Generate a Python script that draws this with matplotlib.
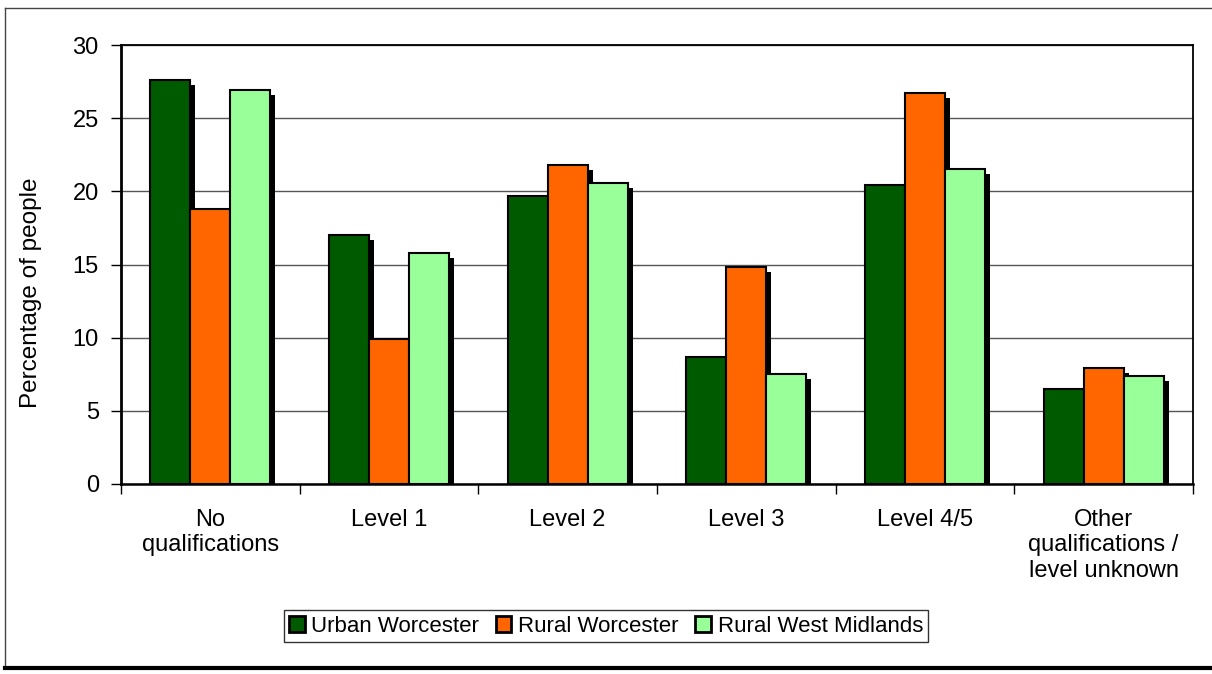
import numpy as np
import matplotlib.pyplot as plt
from matplotlib.transforms import offset_copy
from matplotlib.lines import Line2D

plt.rcParams['font.family'] = ['Liberation Sans', 'DejaVu Sans']

# Data
categories = ['No\nqualifications', 'Level 1', 'Level 2', 'Level 3', 'Level 4/5',
              'Other\nqualifications /\nlevel unknown']
urban_worcester = [27.6, 17.0, 19.7, 8.7, 20.4, 6.5]
rural_worcester = [18.8, 9.9, 21.8, 14.8, 26.7, 7.9]
rural_west_midlands = [26.9, 15.8, 20.6, 7.5, 21.5, 7.4]

series = [urban_worcester, rural_worcester, rural_west_midlands]
names = ['Urban Worcester', 'Rural Worcester', 'Rural West Midlands']
colors = ['#005A00', '#FF6600', '#99FF99']

fig = plt.figure(figsize=(12.12, 6.74), dpi=100)
ax = fig.add_axes([121 / 1212, 1 - 484 / 674, (1193 - 121) / 1212, (484 - 45) / 674])

x = np.arange(len(categories))
w = 0.224
shadow = offset_copy(ax.transData, fig=fig, x=5, y=-5, units='dots')

for i, (vals, c, n) in enumerate(zip(series, colors, names)):
    pos = x + (i - 1) * w
    sh = ax.bar(pos, vals, w, color='black', linewidth=0, zorder=2)
    for p in sh:
        p.set_transform(shadow)
    ax.bar(pos, vals, w, color=c, edgecolor='black', linewidth=1.5, zorder=3, label=n)

ax.set_xlim(-0.5, len(categories) - 0.5)
ax.set_ylim(0, 30)
ax.set_yticks(np.arange(0, 31, 5))
ax.yaxis.grid(True, color='#555555', linewidth=1)
ax.set_axisbelow(True)

ax.set_xticks(np.arange(-0.5, len(categories), 1))
ax.set_xticklabels([])
ax.set_xticks(x, minor=True)
ax.set_xticklabels(categories, minor=True, fontsize=17, linespacing=1.2)
ax.tick_params(axis='x', which='minor', length=0, pad=18)
ax.tick_params(axis='x', which='major', length=7, width=1)
ax.tick_params(axis='y', length=7, width=1, labelsize=17, pad=9)
ax.set_ylabel('Percentage of people', fontsize=17.5)
ax.yaxis.set_label_coords((42 - 121) / 1072, (484 - 293) / 439)

for s in ax.spines.values():
    s.set_linewidth(1.3)
ax.spines['left'].set_linewidth(2)
ax.spines['bottom'].set_linewidth(1.8)

leg = fig.legend(loc='center', bbox_to_anchor=(0.5, 1 - 626 / 674), ncol=3,
                 fontsize=16, frameon=True, fancybox=False, handlelength=0.7,
                 handleheight=0.7, handletextpad=0.3, columnspacing=0.75,
                 borderpad=0.25, borderaxespad=0)
leg.get_frame().set_edgecolor('black')
leg.get_frame().set_linewidth(1)
for h in leg.legend_handles:
    h.set_linewidth(2)

# outer chart frame
fig.add_artist(Line2D([5 / 1212, 5 / 1212], [1 - 8 / 674, 1 - 668 / 674],
                      transform=fig.transFigure, color='#444444', linewidth=1))
fig.add_artist(Line2D([5 / 1212, 1], [1 - 8 / 674, 1 - 8 / 674],
                      transform=fig.transFigure, color='#444444', linewidth=1))
fig.add_artist(Line2D([5 / 1212, 1], [1 - 668 / 674, 1 - 668 / 674],
                      transform=fig.transFigure, color='black', linewidth=3))

fig.savefig('out.png', dpi=100)
